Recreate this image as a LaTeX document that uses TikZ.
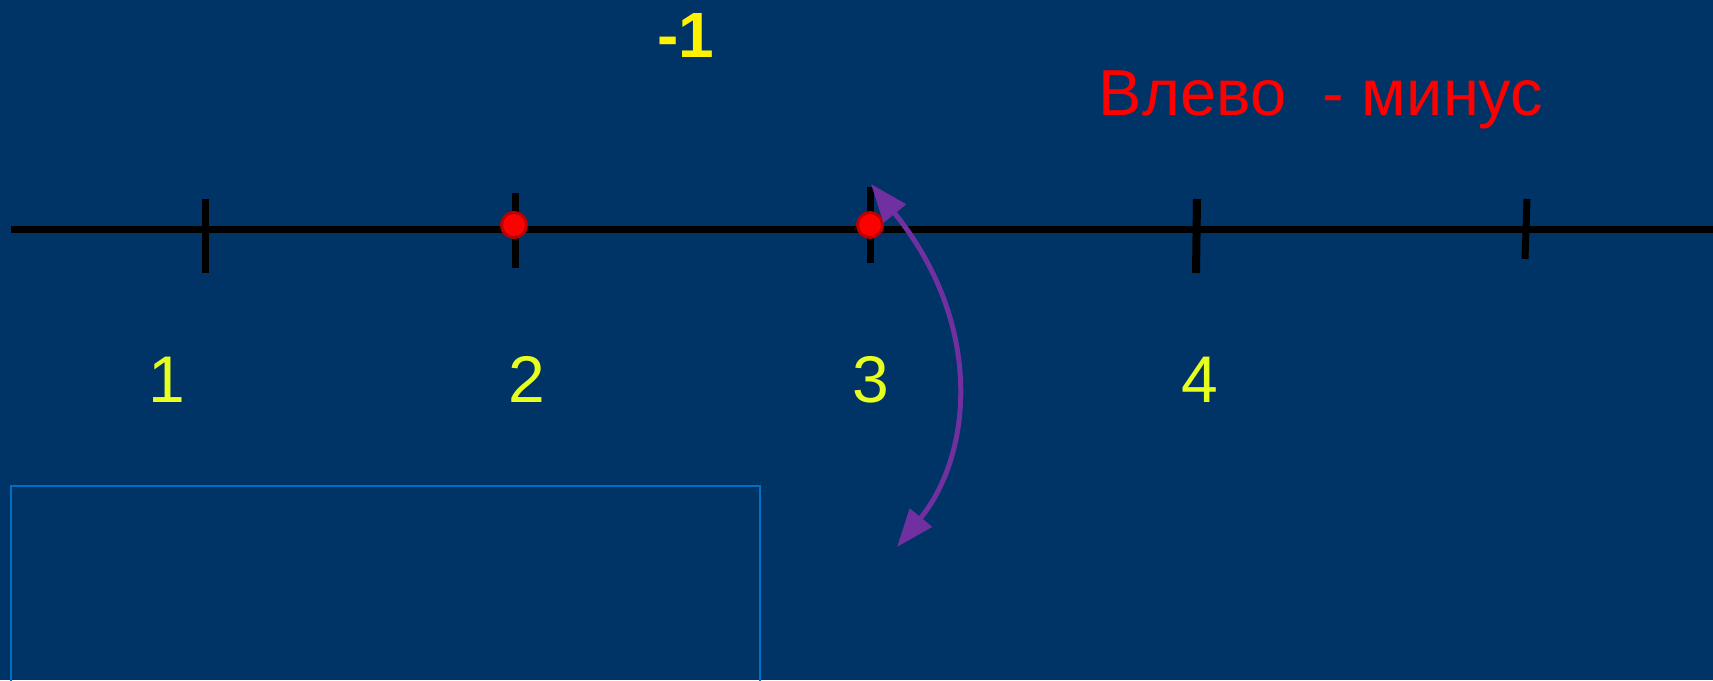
\documentclass[tikz,border=0pt]{standalone}
\usepackage{fontspec}
\setmainfont{Liberation Sans}
\usepackage{tikz}
\usetikzlibrary{arrows.meta}
\usepackage{xcolor}
\definecolor{fondoblue}{RGB}{0,51,102}
\definecolor{labelyellow}{RGB}{230,255,30}
\definecolor{dotred}{RGB}{192,0,0}
\definecolor{arcpurple}{RGB}{112,48,160}
\definecolor{boxblue}{RGB}{0,112,192}
\tikzset{
    axisline/.style={draw=black, line width=7pt},
    tickmark/.style={draw=black, line width=7pt},
    numlabel/.style={text=labelyellow, font=\fontsize{66}{70}\selectfont, inner sep=0pt, anchor=base},
    pointdot/.style={circle, fill=red, draw=dotred, line width=3pt, minimum size=25pt, inner sep=0pt},
    swingarrow/.style={draw=arcpurple, line width=5pt, {Triangle[length=38pt,width=28pt]}-{Triangle[length=38pt,width=28pt]}},
    framebox/.style={draw=boxblue, line width=2pt}
}

\begin{document}
\begin{tikzpicture}[x=1pt, y=-1pt]
    \fill[fondoblue] (0,0) rectangle (1713,680);
    \useasboundingbox (0,0) rectangle (1713,680);
    % number line and ticks
    \draw[axisline] (11,229) -- (1713,229);
    \draw[tickmark] (205,199) -- (205,273);
    \draw[tickmark] (515,193) -- (515,268);
    \draw[tickmark] (870,187) -- (870,263);
    \draw[tickmark, line width=8pt] (1197,199) -- (1196,273);
    \draw[tickmark] (1527,199) -- (1525,259);
    \node[pointdot] (dotA) at (514,225) {};
    \node[pointdot] (dotB) at (870,225) {};
    \node[numlabel] (num1) at (167,402) {1};
    \node[numlabel] (num2) at (527,402) {2};
    \node[numlabel] (num3) at (871,402) {3};
    \node[numlabel] (num4) at (1200,402) {4};
    \node[text=yellow, font=\fontsize{64}{66}\selectfont\bfseries, inner sep=0pt, anchor=base] (minusone) at (686,57) {-1};
    \node[text=red, font=\fontsize{65}{68}\selectfont, inner sep=0pt, anchor=base] (rule) at (1321,115) {Влево~~- минус};
    % swinging arrow
    \coordinate (arcTop) at (871,184);
    \coordinate (arcBot) at (897,547);
    \draw[swingarrow] (arcTop) .. controls (985,325) and (972,455) .. (arcBot);
    \draw[framebox] (11,684) -- (11,486) -- (760,486) -- (760,684);
\end{tikzpicture}
\end{document}
